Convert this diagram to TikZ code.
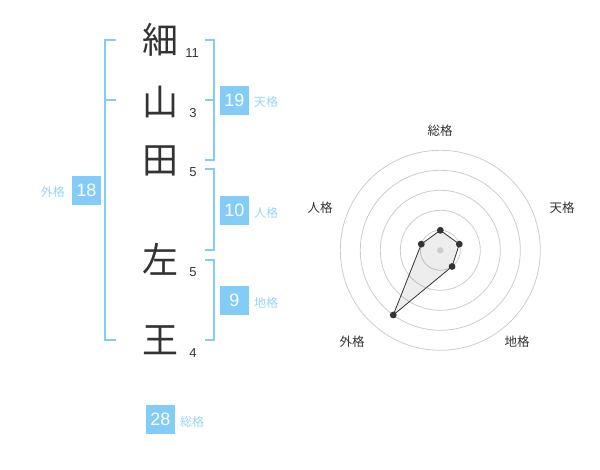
\documentclass[tikz,border=0pt]{standalone}
\usepackage{fontspec}
\setmainfont{Liberation Sans}
\newfontfamily\jp{Noto Sans CJK JP}
\definecolor{sky}{HTML}{84CCF8}
\definecolor{skytext}{HTML}{98D4F8}
\definecolor{ink}{HTML}{333333}
\definecolor{ringc}{HTML}{CCCCCC}
\begin{document}
\begin{tikzpicture}[x=1pt,y=-1pt,
  kanji/.style={font=\jp\fontsize{36}{36}\selectfont, text=ink, inner sep=0pt},
  strokes/.style={font=\fontsize{13}{13}\selectfont, text=ink, inner sep=0pt},
  valbox/.style={fill=sky, text=white, minimum width=29pt, minimum height=29pt, inner sep=0pt, font=\fontsize{18}{18}\selectfont},
  tag/.style={font=\jp\fontsize{12}{12}\selectfont, text=skytext, inner sep=0pt},
  brk/.style={draw=sky, line width=1.6pt},
  axlabel/.style={font=\jp\fontsize{12.5}{12.5}\selectfont, text=ink, inner sep=0pt},
  ringline/.style={draw=ringc, line width=0.8pt},
  dot/.style={fill=ink, draw=none}
]
\useasboundingbox (0,0) rectangle (600,470);

% characters
\node[kanji] (k1) at (160,40) {細};
\node[kanji] (k2) at (160,102) {山};
\node[kanji] (k3) at (160,161) {田};
\node[kanji] (k4) at (160,259) {左};
\node[kanji] (k5) at (160,340) {王};
\node[strokes] (n1) at (192,53) {11};
\node[strokes] (n2) at (193,113) {3};
\node[strokes] (n3) at (193,172) {5};
\node[strokes] (n4) at (193,272) {5};
\node[strokes] (n5) at (193,353) {4};

% brackets
\draw[brk] (116,40) -- (105,40) -- (105,340) -- (116,340);
\draw[brk] (105,100) -- (116,100);
\draw[brk] (205,40) -- (214,40) -- (214,160) -- (205,160);
\draw[brk] (205,100) -- (214,100);
\draw[brk] (205,169) -- (214,169) -- (214,250) -- (205,250);
\draw[brk] (205,260) -- (214,260) -- (214,340) -- (205,340);

% value boxes and tags
\node[valbox] (b19) at (234.5,100.5) {19};
\node[tag, anchor=west] (t19) at (254,102) {天格};
\node[valbox] (b10) at (234.5,210.5) {10};
\node[tag, anchor=west] (t10) at (254,213) {人格};
\node[valbox] (b9) at (234.5,300.5) {9};
\node[tag, anchor=west] (t9) at (254,303) {地格};
\node[valbox] (b18) at (86.5,190.5) {18};
\node[tag, anchor=east] (t18) at (65,192) {外格};
\node[valbox] (b28) at (160.5,419) {28};
\node[tag, anchor=west] (t28) at (180,422) {総格};

% radar
\begin{scope}[shift={(440.3,250.3)}, y=1pt]
  \foreach \r in {20,40,60,80,100} \draw[ringline] (0,0) circle (\r);
  \coordinate (ctr) at (0,0);
  \coordinate (pS) at (90:20);
  \coordinate (pT) at (18:20);
  \coordinate (pC) at (-54:20);
  \coordinate (pG) at (-126:80);
  \coordinate (pJ) at (162:20);
  \fill[black, fill opacity=0.07] (pS) -- (pT) -- (pC) -- (pG) -- (pJ) -- cycle;
  \draw[ink, line width=0.8pt] (pS) -- (pT) -- (pC) -- (pG) -- (pJ) -- cycle;
  \fill[ringc] (ctr) circle (3.2);
  \foreach \p in {pS,pT,pC,pG,pJ} \fill[ink] (\p) circle (3.4);
\end{scope}
\node[axlabel] (lS) at (440,131) {総格};
\node[axlabel] (lT) at (562,208) {天格};
\node[axlabel] (lC) at (517,342) {地格};
\node[axlabel] (lG) at (352,342) {外格};
\node[axlabel] (lJ) at (320,208) {人格};
\end{tikzpicture}
\end{document}
